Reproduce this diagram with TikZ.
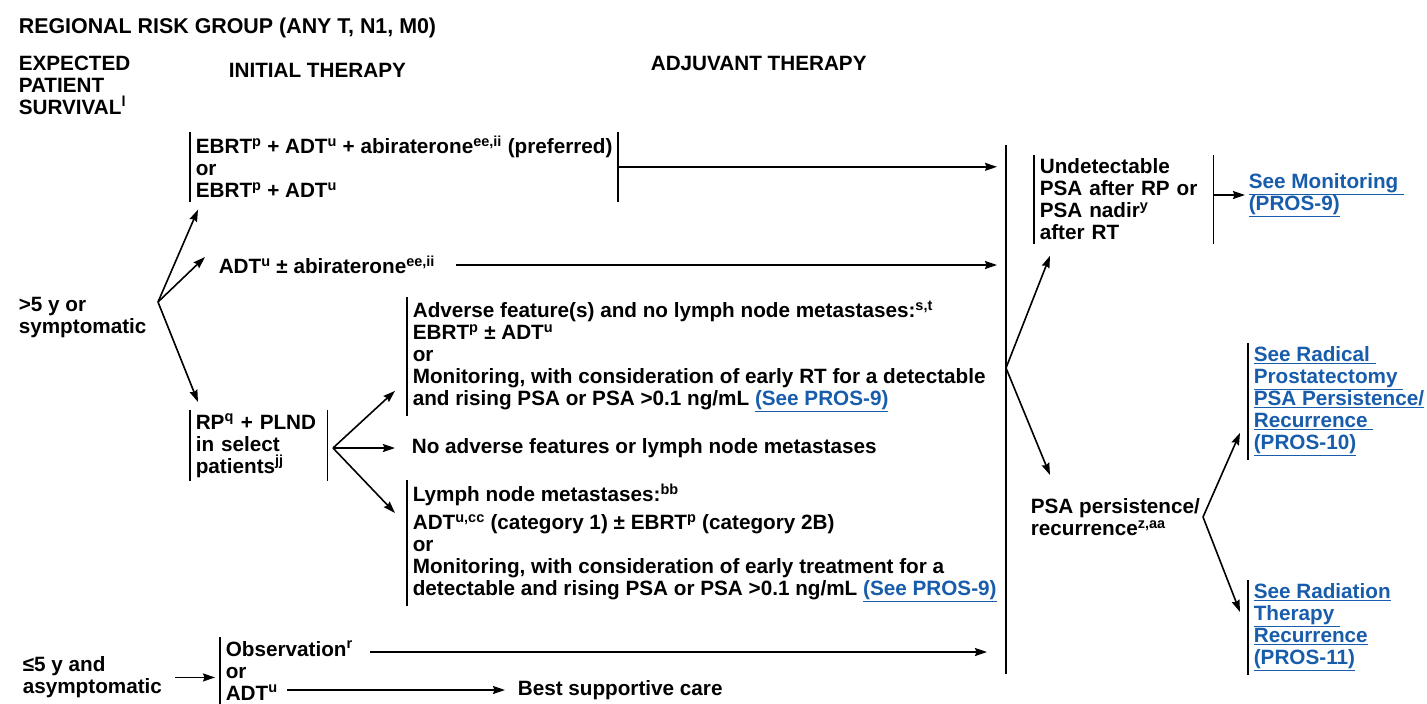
\documentclass[tikz,border=0pt]{standalone}
\usepackage{fontspec}
\setmainfont{Liberation Sans}
\usetikzlibrary{arrows.meta}
\definecolor{linkblue}{RGB}{24,92,172}
\newcommand{\sq}[1]{\textsuperscript{#1}}
\newcommand{\lnk}[1]{\textcolor{linkblue}{\underline{#1}}}
\newcommand{\leftBar}[1]{
  \draw (#1.north west) -- (#1.south west)
}
\newcommand{\bothBars}[1]{
  \draw (#1.north west) -- (#1.south west);
  \draw (#1.north east) -- (#1.south east)
}
\tikzset{
  txt/.style={font={\bfseries\fontsize{20.7}{22}\selectfont}, align=left, inner sep=0pt},
  opt/.style={txt, inner xsep=5pt, inner ysep=3pt, anchor=north west},
  arr/.style={-{Stealth[length=12pt,width=8pt,inset=1.5pt]}}
}

\begin{document}
\begin{tikzpicture}[x=1pt,y=-1pt,line width=1.6pt]
  \useasboundingbox (0,0) rectangle (1427,704);

  % headings
  \node[txt, anchor=base west] (title) at (18,33) {\fontsize{21.4}{22}\selectfont REGIONAL RISK GROUP (ANY T, N1, M0)};
  \node[txt, anchor=north west] (surv) at (18,55) {EXPECTED\\PATIENT\\SURVIVAL\sq{l}};
  \node[txt, anchor=north west] (init) at (228,62) {INITIAL THERAPY};
  \node[txt, anchor=north west] (adj) at (650,55) {ADJUVANT THERAPY};

  % initial therapy
  \node[opt] (ebrt) at (190,132) {EBRT\sq{p} + ADT\sq{u} + abiraterone\sq{ee,ii} (preferred)\\or\\EBRT\sq{p} + ADT\sq{u}};
  \node[txt, anchor=west] (adtab) at (218,265) {ADT\sq{u} ± abiraterone\sq{ee,ii}};
  \node[txt, anchor=north west] (gt5) at (18,296) {>5 y or\\symptomatic};
  \node[opt, text width=126pt] (rp) at (190,410) {RP\sq{q} + PLND\\in select\\patients\sq{jj}};

  \node[opt] (adv) at (407,297) {Adverse feature(s) and no lymph node metastases:\sq{s,t}\\EBRT\sq{p} ± ADT\sq{u}\\or\\Monitoring, with consideration of early RT for a detectable\\and rising PSA or PSA >0.1 ng/mL \lnk{(See PROS-9)}};
  \node[txt, anchor=west] (noadv) at (411,448) {No adverse features or lymph node metastases};
  \node[opt] (lymph) at (407,480) {Lymph node metastases:\sq{bb}\\[6pt]ADT\sq{u,cc} (category 1) ± EBRT\sq{p} (category 2B)\\or\\Monitoring, with consideration of early treatment for a\\detectable and rising PSA or PSA >0.1 ng/mL \lnk{(See PROS-9)}};

  % adjuvant therapy
  \node[opt, text width=168pt] (undet) at (1034,155) {Undetectable\\PSA after RP or\\PSA nadir\sq{y}\\after RT};
  \node[txt, anchor=west] (mon) at (1248,195) {\lnk{See Monitoring\ }\\\lnk{(PROS-9)}};
  \node[txt, anchor=north west] (psa) at (1030,498) {PSA persistence/\\recurrence\sq{z,aa}};
  \node[opt] (rad) at (1248,343) {\lnk{See Radical\ }\\\lnk{Prostatectomy\ }\\\lnk{PSA Persistence/}\\\lnk{Recurrence\ }\\\lnk{(PROS-10)}};
  \node[opt] (radt) at (1248,580) {\lnk{See Radiation}\\\lnk{Therapy\ }\\\lnk{Recurrence}\\\lnk{(PROS-11)}};

  % short survival
  \node[txt, anchor=north west] (le5) at (22,656) {≤5 y and\\asymptomatic};
  \node[opt] (obs) at (220,637) {Observation\sq{r}\\or\\ADT\sq{u}};
  \node[txt, anchor=west] (bsc) at (517,690) {Best supportive care};

  \coordinate (vtop) at (1006,145);
  \coordinate (vbot) at (1006,674);
  \coordinate (fork1) at (158,302);
  \coordinate (fork2) at (333,448);
  \coordinate (fork3) at (1006,368);
  \coordinate (fork4) at (1203,517);
  \coordinate (obsend) at (370,652);
  \coordinate (adtend) at (287,690);

  \bothBars{ebrt};
  \bothBars{rp};
  \bothBars{undet};
  \leftBar{adv};
  \leftBar{lymph};
  \leftBar{rad};
  \leftBar{radt};
  \leftBar{obs};
  \draw (vtop) -- (vbot);

  \draw[arr] (fork1) -- ([shift={(8,8)}]ebrt.south west);
  \draw[arr] (fork1) -- ([shift={(-13,-8)}]adtab.west);
  \draw[arr] (fork1) -- ([shift={(8,-8)}]rp.north west);
  \draw[arr] (fork2) -- ([shift={(-12,-25)}]adv.south west);
  \draw[arr] (fork2) -- ([xshift=-16]noadv.west);
  \draw[arr] (fork2) -- ([shift={(-12,33)}]lymph.north west);

  \draw[arr, shorten >=9pt] (ebrt.east) -- (ebrt.east -| vtop);
  \draw[arr, shorten >=9pt] ([xshift=20]adtab.east) -- (adtab.east -| vtop);
  \draw[arr, shorten >=19pt] (obsend) -- (obsend -| vtop);

  \draw[arr] (fork3) -- ([shift={(16,12)}]undet.south west);
  \draw[arr] (fork3) -- ([shift={(20,-23)}]psa.north west);
  \draw[arr] (undet.east |- mon.west) -- ([xshift=-3]mon.west);
  \draw[arr] (fork4) -- ([shift={(-8,-27)}]rad.south west);
  \draw[arr] (fork4) -- ([shift={(-8,32)}]radt.north west);

  \draw[arr] ([xshift=12]le5.east) -- ([xshift=-5]le5.east -| obs.west);
  \draw[arr] (adtend) -- ([xshift=-12]bsc.west);
\end{tikzpicture}
\end{document}
